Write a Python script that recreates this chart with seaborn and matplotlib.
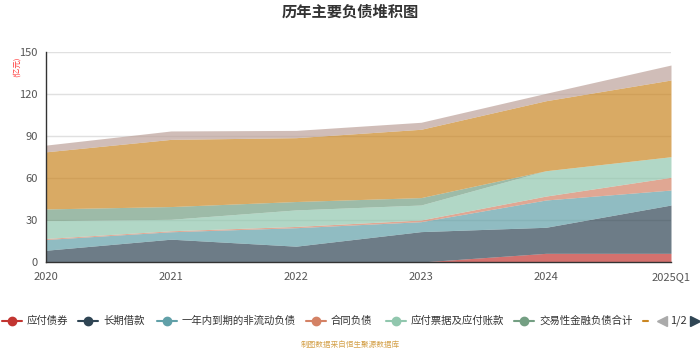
import numpy as np
import pandas as pd
import matplotlib
matplotlib.use("Agg")
import matplotlib.pyplot as plt
from matplotlib.lines import Line2D
import seaborn as sns

# ---------------- data ----------------
categories = ["2020", "2021", "2022", "2023", "2024", "2025Q1"]
series_names = ["应付债券", "长期借款", "一年内到期的非流动负债", "合同负债",
                "应付票据及应付账款", "交易性金融负债合计", "其他应付款合计", "应付职工薪酬"]
bonds_payable = [0, 0, 0, 0, 6.2, 6.2]
long_term_loans = [8.4, 16.3, 11.3, 21.7, 18.6, 34.5]
current_noncurrent = [7.7, 5.3, 13.2, 7.1, 19.5, 10.7]
contract_liab = [0.7, 0.7, 0.9, 1.2, 2.8, 9.1]
notes_accounts_payable = [12.7, 8.2, 11.8, 10.7, 18.1, 14.7]
trading_fin_liab = [8.4, 9.1, 6.0, 5.3, 0, 0]
other_payables = [40.8, 48.0, 45.6, 48.8, 50.0, 54.8]
staff_payables = [4.8, 6.0, 5.2, 5.0, 5.3, 10.7]
y_ticks = [0, 30, 60, 90, 120, 150]

title = "历年主要负债堆积图"
unit_label = "(亿元)"
footer = "制图数据来自恒生聚源数据库"
page_label = "1/2"

palette = ["#c23531", "#2f4554", "#61a0a8", "#d48265", "#91c7ae",
           "#749f83", "#ca8622", "#bda29a"]

df = pd.DataFrame({
    "year": categories,
    series_names[0]: bonds_payable,
    series_names[1]: long_term_loans,
    series_names[2]: current_noncurrent,
    series_names[3]: contract_liab,
    series_names[4]: notes_accounts_payable,
    series_names[5]: trading_fin_liab,
    series_names[6]: other_payables,
    series_names[7]: staff_payables,
})

# ---------------- style ----------------
sns.set_theme(style="white")
plt.rcParams["font.family"] = ["Noto Sans CJK SC", "DejaVu Sans"]
plt.rcParams["axes.unicode_minus"] = False

fig = plt.figure(figsize=(7, 3.5), dpi=100)
ax = fig.add_axes([46 / 700, 1 - 262 / 350, (671 - 46) / 700, 210 / 350])

x = np.arange(len(categories))
ys = [df[n].values for n in series_names]
ax.stackplot(x, ys, colors=palette, alpha=0.7, linewidth=0)

# grid lines
for t in y_ticks[1:]:
    ax.axhline(t, color="#e0e0e0", lw=1, zorder=0.5)

ax.set_xlim(0, len(categories) - 1)
ax.set_ylim(0, 150)
ax.set_yticks(y_ticks)
ax.set_xticks(x)
ax.set_xticklabels(categories)
ax.tick_params(axis="both", labelsize=8, colors="#333333", length=4, width=1,
               direction="out", pad=2, labelcolor="#555555")
ax.tick_params(axis="x", pad=3)
sns.despine(ax=ax, top=True, right=True)
for s in ["left", "bottom"]:
    ax.spines[s].set_color("#333333")
    ax.spines[s].set_linewidth(1)
ax.set_xlabel("")
ax.set_ylabel("")

# title / unit
fig.text(0.5, 1 - 12 / 350, title, ha="center", va="center", fontsize=11,
         fontweight="bold", color="#333333")
fig.text(17 / 700, 1 - 67 / 350, unit_label, ha="center", va="center",
         fontsize=5.5, color="#ff3333", rotation=90)

# legend (page 1)
legend_y = 1 - 321 / 350
marker_x = [12, 88, 167, 316, 396, 524]
for i in range(6):
    mx = marker_x[i] / 700
    fig.add_artist(Line2D([mx - 10 / 700, mx + 10 / 700], [legend_y, legend_y],
                          color=palette[i], lw=1.5, transform=fig.transFigure))
    fig.add_artist(Line2D([mx], [legend_y], marker="o", markersize=6,
                          color=palette[i], transform=fig.transFigure))
    fig.text(mx + 15 / 700, legend_y, series_names[i], ha="left", va="center",
             fontsize=7.5, color="#333333")
# partial next item
fig.add_artist(Line2D([643 / 700, 648 / 700], [legend_y, legend_y],
                      color=palette[6], lw=1.5, transform=fig.transFigure))
fig.add_artist(Line2D([662 / 700], [legend_y], marker="<", markersize=7,
                      color="#aaaaaa", transform=fig.transFigure))
fig.text(678.5 / 700, legend_y, page_label, ha="center", va="center",
         fontsize=8, color="#333333")
fig.add_artist(Line2D([695 / 700], [legend_y], marker=">", markersize=7,
                      color="#2f4554", transform=fig.transFigure))

fig.text(0.5, 1 - 345 / 350, footer, ha="center", va="center",
         fontsize=5.5, color="#d4a14a")

fig.savefig("out.png", dpi=100)
